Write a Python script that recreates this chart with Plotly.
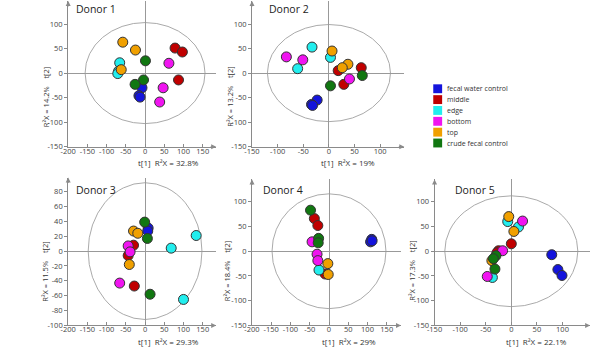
import plotly.graph_objects as go

# ---------------- data ----------------
groups = ["fecal water control", "middle", "edge", "bottom", "top", "crude fecal control"]
group_colors = ["#1414DC", "#C00000", "#22EEEE", "#F014F0", "#F0A000", "#117711"]

donor_names = ["Donor 1", "Donor 2", "Donor 3", "Donor 4", "Donor 5"]
x_titles = ["t[1]  R²X = 32.8%", "t[1]  R²X = 19%", "t[1]  R²X = 29.3%", "t[1]  R²X = 29%", "t[1]  R²X = 22.1%"]
y_titles = ["R²X = 14.2%    t[2]", "R²X = 13.2%    t[2]", "R²X = 11.5%    t[2]", "R²X = 18.4%    t[2]", "R²X = 17.3%    t[2]"]

# ellipse semi-axes (t1, t2) per donor
ellipse_t1 = [156, 120, 148, 148, 130]
ellipse_t2 = [103, 99, 92, 116, 112]

donor1_group = ["top", "top", "top", "edge", "edge", "edge", "crude fecal control", "crude fecal control",
                "crude fecal control", "fecal water control", "fecal water control", "fecal water control",
                "bottom", "bottom", "bottom", "middle", "middle", "middle"]
donor1_t1 = [-58, -25, -62, -66, -69, -71, 1, -4, -26, -8, -16, -13, 62, 47, 38, 78, 97, 87]
donor1_t2 = [63, 47, 7, 21, 4, -1, 25, -14, -23, -30, -46, -49, 20, -30, -59, 51, 43, -14]

donor2_group = ["bottom", "bottom", "bottom", "edge", "edge", "edge", "top", "top", "top",
                "middle", "middle", "middle", "crude fecal control", "crude fecal control",
                "fecal water control", "fecal water control", "fecal water control"]
donor2_t1 = [-83, -51, 40, -33, -61, 3, 6, 37, 26, 18, 63, 29, 65, 3, -23, -34, -32]
donor2_t2 = [33, 27, -12, 53, 9, 32, 45, 18, 11, 5, 11, -23, -5, -26, -55, -64, -66]

donor3_group = ["crude fecal control", "crude fecal control", "fecal water control", "fecal water control",
                "top", "top", "top", "bottom", "bottom", "bottom", "middle", "middle", "middle",
                "edge", "edge", "edge", "crude fecal control"]
donor3_t1 = [-1, 6, 8, 7, -30, -19, -41, -44, -39, -66, -30, -44, -28, 133, 68, 100, 13]
donor3_t2 = [39, 17, 31, 27, 27, 24, -18, 7, -1, -43, 8, -6, -47, 21, 4, -65, -58]

donor4_group = ["crude fecal control", "middle", "middle", "crude fecal control", "crude fecal control",
                "bottom", "bottom", "bottom", "edge", "top", "top", "middle",
                "fecal water control", "fecal water control", "fecal water control"]
donor4_t1 = [-48, -38, -29, -27, -28, -44, -31, -29, -26, -3, -2, -10, 111, 108, 112]
donor4_t2 = [83, 66, 52, 26, 17, 19, -6, -19, -38, -25, -47, -46, 24, 19, 21]

donor5_group = ["top", "edge", "bottom", "edge", "top", "middle", "bottom", "middle", "middle",
                "crude fecal control", "top", "crude fecal control", "crude fecal control",
                "bottom", "edge", "fecal water control", "fecal water control", "fecal water control"]
donor5_t1 = [-5, -7, 22, 14, 5, 0, -17, -25, -28, -30, -38, -35, -32, -47, -37, 79, 91, 99]
donor5_t2 = [70, 60, 61, 49, 40, 15, 1, 1, -3, -9, -19, -15, -36, -51, -53, -7, -37, -49]

donor_data = [
    (donor1_group, donor1_t1, donor1_t2),
    (donor2_group, donor2_t1, donor2_t2),
    (donor3_group, donor3_t1, donor3_t2),
    (donor4_group, donor4_t1, donor4_t2),
    (donor5_group, donor5_t1, donor5_t2),
]

x_ranges = [[-200, 185], [-150, 147], [-200, 185], [-200, 187], [-150, 154]]
y_ranges = [[-150, 147], [-150, 147], [-100, 99], [-150, 145], [-150, 145]]
x_ticks = [list(range(-200, 151, 50)), list(range(-150, 101, 50)), list(range(-200, 151, 50)),
           list(range(-200, 151, 50)), list(range(-150, 101, 50))]
y_ticks = [list(range(-150, 101, 50)), list(range(-150, 101, 50)), list(range(-100, 81, 20)),
           list(range(-150, 101, 50)), list(range(-150, 101, 50))]

# ---------------- layout geometry (pixels) ----------------
W, H = 600, 363
x_px = [(61, 211), (247.3, 401.7), (61, 211), (247.3, 398.3), (432.3, 590)]
y_px = [(148.7, 1), (148.7, 1), (330, 180), (330, 182), (330, 182)]  # (bottom, top)
title_pos = [(67, 9), (262, 9), (67, 193), (256, 193), (451, 193)]
xtitle_pos = [(163, 165), (345, 165), (163, 346), (346, 346), (536, 346)]
ytitle_pos = [(38, 98), (225, 98), (38, 275), (222, 275), (410, 275)]

FONT = "Open Sans"
AX_COL = "#8a8a8a"
color_of = dict(zip(groups, group_colors))

fig = go.Figure()
layout = dict(width=W, height=H, margin=dict(l=0, r=0, t=0, b=0),
              plot_bgcolor="white", paper_bgcolor="white", showlegend=False,
              font=dict(family=FONT, color="#333"))
shapes, annotations = [], []

for i, (grp, t1, t2) in enumerate(donor_data):
    n = i + 1
    xa = "x" if n == 1 else f"x{n}"
    ya = "y" if n == 1 else f"y{n}"
    xkey = "xaxis" if n == 1 else f"xaxis{n}"
    ykey = "yaxis" if n == 1 else f"yaxis{n}"
    x0, x1 = x_px[i]
    yb, yt = y_px[i]
    layout[xkey] = dict(domain=[x0 / W, x1 / W], range=x_ranges[i], anchor=ya,
                        showgrid=False, zeroline=True, zerolinecolor="#999", zerolinewidth=1,
                        showline=True, linecolor=AX_COL, linewidth=1,
                        ticks="inside", ticklen=3, tickcolor=AX_COL,
                        tickvals=x_ticks[i], ticktext=[str(v) for v in x_ticks[i]],
                        ticklabelstandoff=-3,
                        tickfont=dict(size=7.5, color="#444", family=FONT),
                        fixedrange=True)
    layout[ykey] = dict(domain=[(H - yb) / H, (H - yt) / H], range=y_ranges[i], anchor=xa,
                        showgrid=False, zeroline=True, zerolinecolor="#999", zerolinewidth=1,
                        showline=True, linecolor=AX_COL, linewidth=1,
                        ticks="outside", ticklen=3, tickcolor=AX_COL,
                        tickvals=y_ticks[i], ticktext=[str(v) for v in y_ticks[i]],
                        tickfont=dict(size=7.5, color="#444", family=FONT),
                        fixedrange=True)
    # Hotelling ellipse
    shapes.append(dict(type="circle", xref=xa, yref=ya,
                       x0=-ellipse_t1[i], x1=ellipse_t1[i], y0=-ellipse_t2[i], y1=ellipse_t2[i],
                       line=dict(color="#aaaaaa", width=1), layer="below"))
    # axis arrows
    annotations.append(dict(x=x_ranges[i][1], y=y_ranges[i][0], xref=xa, yref=ya, text="",
                            showarrow=True, arrowhead=2, arrowsize=1, arrowwidth=1,
                            arrowcolor=AX_COL, ax=-7, ay=0))
    annotations.append(dict(x=x_ranges[i][0], y=y_ranges[i][1], xref=xa, yref=ya, text="",
                            showarrow=True, arrowhead=2, arrowsize=1, arrowwidth=1,
                            arrowcolor=AX_COL, ax=0, ay=7))
    # titles
    tx, ty = title_pos[i]
    annotations.append(dict(x=tx / W, y=1 - ty / H, xref="paper", yref="paper", text=donor_names[i],
                            showarrow=False, xanchor="left", yanchor="middle",
                            font=dict(size=10.5, color="#222", family=FONT)))
    ax_, ay_ = xtitle_pos[i]
    annotations.append(dict(x=ax_ / W, y=1 - ay_ / H, xref="paper", yref="paper", text=x_titles[i],
                            showarrow=False, xanchor="center", yanchor="middle",
                            font=dict(size=8, color="#333", family=FONT)))
    bx, by = ytitle_pos[i]
    annotations.append(dict(x=bx / W, y=1 - by / H, xref="paper", yref="paper", text=y_titles[i],
                            showarrow=False, xanchor="center", yanchor="middle", textangle=-90,
                            font=dict(size=7.5, color="#333", family=FONT)))
    # points
    for g in groups:
        xs = [a for a, gg in zip(t1, grp) if gg == g]
        ys = [b for b, gg in zip(t2, grp) if gg == g]
        if not xs:
            continue
        fig.add_trace(go.Scatter(x=xs, y=ys, xaxis=xa, yaxis=ya, mode="markers", name=g,
                                 marker=dict(size=10, color=color_of[g],
                                             line=dict(color="#333", width=1)),
                                 hoverinfo="skip"))

# manual compact legend
leg_x, leg_y0, leg_dy = 431, 90, 11
for k, g in enumerate(groups):
    yc = leg_y0 + k * leg_dy
    shapes.append(dict(type="rect", xref="paper", yref="paper",
                       x0=leg_x / W, x1=(leg_x + 9) / W,
                       y0=1 - (yc + 4.5) / H, y1=1 - (yc - 4.5) / H,
                       fillcolor=color_of[g], line=dict(width=0)))
    annotations.append(dict(x=(leg_x + 12) / W, y=1 - yc / H, xref="paper", yref="paper", text=g,
                            showarrow=False, xanchor="left", yanchor="middle",
                            font=dict(size=7, color="#333", family=FONT)))

layout["shapes"] = shapes
layout["annotations"] = annotations
fig.update_layout(**layout)
fig.write_html("out.html", config={"displayModeBar": False},
               post_script="document.body.style.margin='0';document.body.style.padding='0';")
